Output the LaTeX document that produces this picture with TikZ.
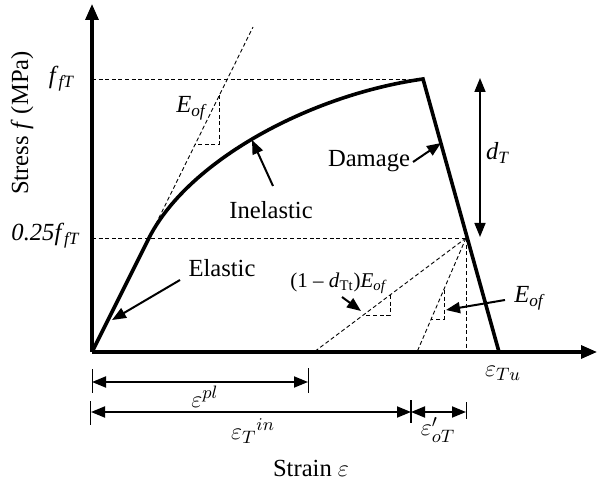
\documentclass[tikz,border=0pt]{standalone}
\usepackage{fontspec}
\setmainfont{Liberation Serif}
\usetikzlibrary{arrows.meta,positioning}
\newcommand{\isub}[1]{\textsubscript{\textit{#1}}}

\begin{document}
\begin{tikzpicture}[
  x=0.5pt, y=-0.5pt,
  font=\fontsize{12.3}{14}\selectfont,
  axis/.style={line width=1.6pt, -{Triangle[length=8pt, width=6.5pt]}},
  curve/.style={line width=1.8pt, line join=miter},
  guide/.style={dash pattern=on 2pt off 1.3pt, line width=0.45pt},
  callout/.style={line width=1pt, -{Triangle[length=7pt, width=5.5pt]}},
  dim/.style={line width=0.9pt, {Triangle[length=7pt, width=5.5pt]}-{Triangle[length=7pt, width=5.5pt]}},
  bar/.style={line width=0.5pt},
  lbl/.style={inner sep=1pt}
]
\useasboundingbox (0,0) rectangle (598,485);

% key points of the curve
\coordinate (O) at (92,352);
\coordinate (Ytop) at (92,4);
\coordinate (Xend) at (597,352);
\coordinate (Y) at (150,236);
\coordinate (P) at (423,79);
\coordinate (U) at (499,352);
\coordinate (D) at (466,238);
\coordinate (Ext) at (253,27);
\coordinate (R1) at (314,352);
\coordinate (R2) at (417,352);

% guides
\draw[guide] (O |- P) -- (P);
\draw[guide] (O |- D) -- (D);
\draw[guide] (Y) -- (Ext);
\draw[guide] (219,95) -- (219,144) -- (195,144);
\draw[guide] (D) -- (R1);
\draw[guide] (390,295) -- (390,315) -- (366,315);
\draw[guide] (D) -- (R2);
\draw[guide] (444,290) -- (444,319) -- (431,319);
\draw[guide] (D) -- (D |- O);

% axes
\draw[axis] (O) -- (Ytop);
\draw[axis] (O) -- (Xend);
\draw[line width=1pt] (90.5,60) -- (90.5,95);
\draw[line width=1pt] (90.5,215) -- (90.5,252);

% stress-strain curve
\draw[curve] (O) -- (Y) .. controls (190,160) and (310,95) .. (P) -- (U);

% labels
\node[lbl] (fT) at (62,79) {\textit{f}\isub{fT}};
\node[lbl] (qfT) at (46,236) {\textit{0.25f}\isub{fT}};
\node[lbl, rotate=90] (ylab) at (22,123) {Stress \textit{f} (MPa)};
\node[lbl] (Eof1) at (192,108) {\textit{E}\isub{of}};
\node[lbl] (inel) at (271,210) {Inelastic};
\node[lbl] (dmg) at (369,161) {Damage};
\node[lbl] (elas) at (222,268) {Elastic};
\node[lbl] (dT) at (498,153) {\textit{d}\isub{T}};
\node[lbl] (Eof2) at (530,298) {\textit{E}\isub{of}};
\node[lbl, font=\fontsize{10.5}{12}\selectfont] (redE) at (339,283) {(1 – \textit{d}\textsubscript{Tt})\textit{E}\isub{of}};
\node[lbl] (eTu) at (503,373) {$\varepsilon_{Tu}$};
\node[lbl] (epl) at (205,397) {$\varepsilon^{pl}$};
\node[lbl] (ein) at (253,431) {${\varepsilon_{T}}^{in}$};
\node[lbl] (eoT) at (438,430) {$\varepsilon'_{oT}$};
\node[lbl] (xlab) at (311,468) {Strain $\varepsilon$};

% callouts
\coordinate (inelT) at (273,186);
\coordinate (inelH) at (252,140);
\coordinate (dmgT) at (413,162);
\coordinate (dmgH) at (441,143);
\coordinate (elasT) at (180,280);
\coordinate (elasH) at (112,320);
\coordinate (redT) at (342,297);
\coordinate (redH) at (361,311);
\coordinate (eofT) at (505,300);
\coordinate (eofH) at (446,310);
\draw[callout] (inelT) -- (inelH);
\draw[callout] (dmgT) -- (dmgH);
\draw[callout] (elasT) -- (elasH);
\draw[callout] (redT) -- (redH);
\draw[callout] (eofT) -- (eofH);

% damage range
\coordinate (dTtop) at (480,78);
\coordinate (dTbot) at (480,237);
\draw[dim, line width=0.8pt] (dTtop) -- (dTbot);

% strain dimensions
\coordinate (a0) at (92,382);
\coordinate (a1) at (308,382);
\coordinate (b0) at (91,412);
\coordinate (b1) at (411,412);
\coordinate (b2) at (466,412);
\draw[bar] (92,369) -- (92,393);
\draw[bar] (308,368) -- (308,393);
\draw[bar] (90,401) -- (90,425);
\draw[line width=1pt] (411,400) -- (411,423);
\draw[bar] (466,402) -- (466,419);
\draw[dim] (a0) -- (a1);
\draw[dim] (b0) -- (b1);
\draw[dim] (b1) -- (b2);
\end{tikzpicture}
\end{document}
